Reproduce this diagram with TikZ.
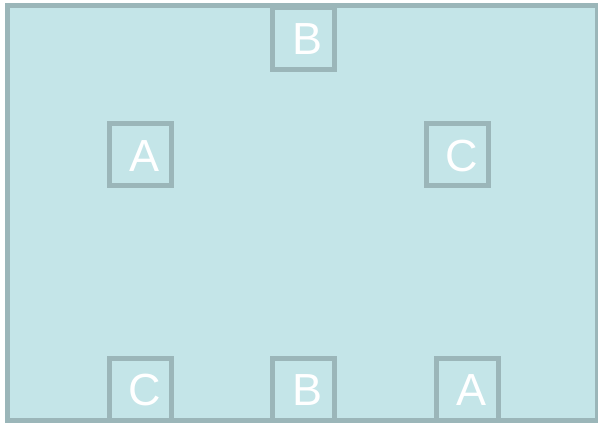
\documentclass[tikz,border=0pt]{standalone}
\usepackage{fontspec}
\setmainfont{Liberation Sans}
\usepackage{xcolor}
\usepackage{tikz}
\usetikzlibrary{positioning}
\definecolor{roomfill}{HTML}{C4E5E8}
\definecolor{wallgray}{HTML}{9BB6B9}

\begin{document}
\begin{tikzpicture}[x=1pt,y=1pt,
  room/.style={draw=wallgray,fill=roomfill,line width=5pt},
  seat/.style={rectangle,draw=wallgray,line width=5pt,minimum size=62pt,inner sep=0pt},
  tag/.style={text=white,inner sep=0pt,xshift=4.5pt,yshift=-1pt,font=\fontsize{45}{45}\selectfont}
]
\useasboundingbox (0,0) rectangle (598,423);
\draw[room] (7.5,2) rectangle (597,417.5);
\node[seat] (topb) at (303.5,384.5) {};
\node[seat] (lefta) at (140.5,268) {};
\node[seat] (rightc) at (457.5,268) {};
\node[seat] (botc) at (140,33.5) {};
\node[seat] (botb) at (303.5,33.5) {};
\node[seat] (bota) at (467.5,33.5) {};
\node[tag] (topbt) at (topb) {B};
\node[tag] (leftat) at (lefta) {A};
\node[tag] (rightct) at (rightc) {C};
\node[tag] (botct) at (botc) {C};
\node[tag] (botbt) at (botb) {B};
\node[tag] (botat) at (bota) {A};
\end{tikzpicture}
\end{document}
